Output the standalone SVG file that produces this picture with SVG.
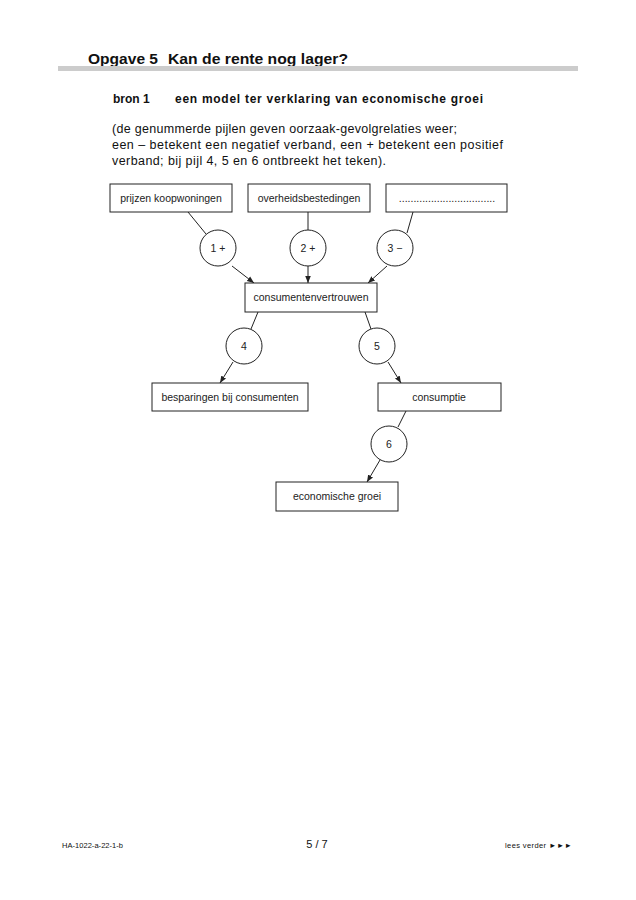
<svg xmlns="http://www.w3.org/2000/svg" width="636" height="900" viewBox="0 0 636 900">
<style>
text{font-family:"Liberation Sans",Arial,sans-serif;fill:#111}
.box{fill:#fff;stroke:#222;stroke-width:1}
.circ{fill:#fff;stroke:#222;stroke-width:1}
.lbl{font-size:10.5px;text-anchor:middle;fill:#222}
.ln{stroke:#222;stroke-width:1;fill:none}
.ar{stroke:#222;stroke-width:1;fill:none;marker-end:url(#ah)}
.p{font-size:12.5px}
</style>
<defs>
<marker id="ah" viewBox="0 0 10 10" refX="10" refY="5" markerWidth="7" markerHeight="7" orient="auto" markerUnits="userSpaceOnUse">
<path d="M0,1 L10,5 L0,9 z" fill="#222"/>
</marker>
</defs>
<rect width="636" height="900" fill="#fff"/>
<text x="88" y="64" font-size="15.5" font-weight="bold" textLength="70" lengthAdjust="spacingAndGlyphs">Opgave 5</text>
<text x="168" y="64" font-size="15.5" font-weight="bold" textLength="180" lengthAdjust="spacingAndGlyphs">Kan de rente nog lager?</text>
<rect x="58" y="66" width="520" height="5" fill="#cccccc"/>
<text x="113" y="103" font-size="12" font-weight="bold">bron 1</text>
<text x="175" y="103" font-size="12" font-weight="bold" textLength="308">een model ter verklaring van economische groei</text>
<text class="p" x="112" y="133" textLength="345">(de genummerde pijlen geven oorzaak-gevolgrelaties weer;</text>
<text class="p" x="112" y="149" textLength="391">een – betekent een negatief verband, een + betekent een positief</text>
<text class="p" x="112" y="165" textLength="274">verband; bij pijl 4, 5 en 6 ontbreekt het teken).</text>
<g id="connectors">
<line class="ln" x1="188" y1="212" x2="206" y2="234"/>
<line class="ar" x1="232" y1="266" x2="254" y2="283"/>
<line class="ln" x1="308" y1="212" x2="308" y2="230"/>
<line class="ar" x1="308" y1="266" x2="308" y2="283"/>
<line class="ln" x1="413" y1="212" x2="407" y2="233" />
<line class="ar" x1="387" y1="266" x2="368" y2="283"/>
<line class="ln" x1="258" y1="312" x2="251" y2="329"/>
<line class="ar" x1="233" y1="362" x2="220" y2="383"/>
<line class="ln" x1="365" y1="312" x2="371" y2="329"/>
<line class="ar" x1="388" y1="362" x2="401" y2="383"/>
<line class="ln" x1="406" y1="411" x2="398" y2="427"/>
<line class="ar" x1="380" y1="460" x2="367" y2="482"/>
</g>
<g id="n-prijzen"><rect class="box" x="110" y="184" width="122" height="28"/><text class="lbl" x="171" y="202">prijzen koopwoningen</text></g>
<g id="n-overheid"><rect class="box" x="248" y="184" width="122" height="28"/><text class="lbl" x="309" y="202">overheidsbestedingen</text></g>
<g id="n-blank"><rect class="box" x="386" y="184" width="121" height="28"/><text class="lbl" x="447" y="202">.................................</text></g>
<g id="c1"><circle class="circ" cx="218" cy="248" r="18"/><text class="lbl" x="218" y="252">1 +</text></g>
<g id="c2"><circle class="circ" cx="308" cy="248" r="18"/><text class="lbl" x="308" y="252">2 +</text></g>
<g id="c3"><circle class="circ" cx="395" cy="248" r="18"/><text class="lbl" x="395" y="252">3 −</text></g>
<g id="n-cv"><rect class="box" x="245" y="283" width="132" height="29"/><text class="lbl" x="311" y="301">consumentenvertrouwen</text></g>
<g id="c4"><circle class="circ" cx="244" cy="346" r="18"/><text class="lbl" x="244" y="350">4</text></g>
<g id="c5"><circle class="circ" cx="377" cy="346" r="18"/><text class="lbl" x="377" y="350">5</text></g>
<g id="n-besp"><rect class="box" x="152" y="383" width="156" height="28"/><text class="lbl" x="230" y="401">besparingen bij consumenten</text></g>
<g id="n-cons"><rect class="box" x="378" y="383" width="123" height="28"/><text class="lbl" x="439" y="401">consumptie</text></g>
<g id="c6"><circle class="circ" cx="389" cy="444" r="18"/><text class="lbl" x="389" y="448">6</text></g>
<g id="n-groei"><rect class="box" x="276" y="482" width="122" height="29"/><text class="lbl" x="337" y="500">economische groei</text></g>
<text x="62" y="848" font-size="7.5" textLength="61">HA-1022-a-22-1-b</text>
<text x="317" y="848" font-size="11" text-anchor="middle">5 / 7</text>
<text x="505" y="848" font-size="7.5" textLength="67">lees verder ►►►</text>
</svg>
